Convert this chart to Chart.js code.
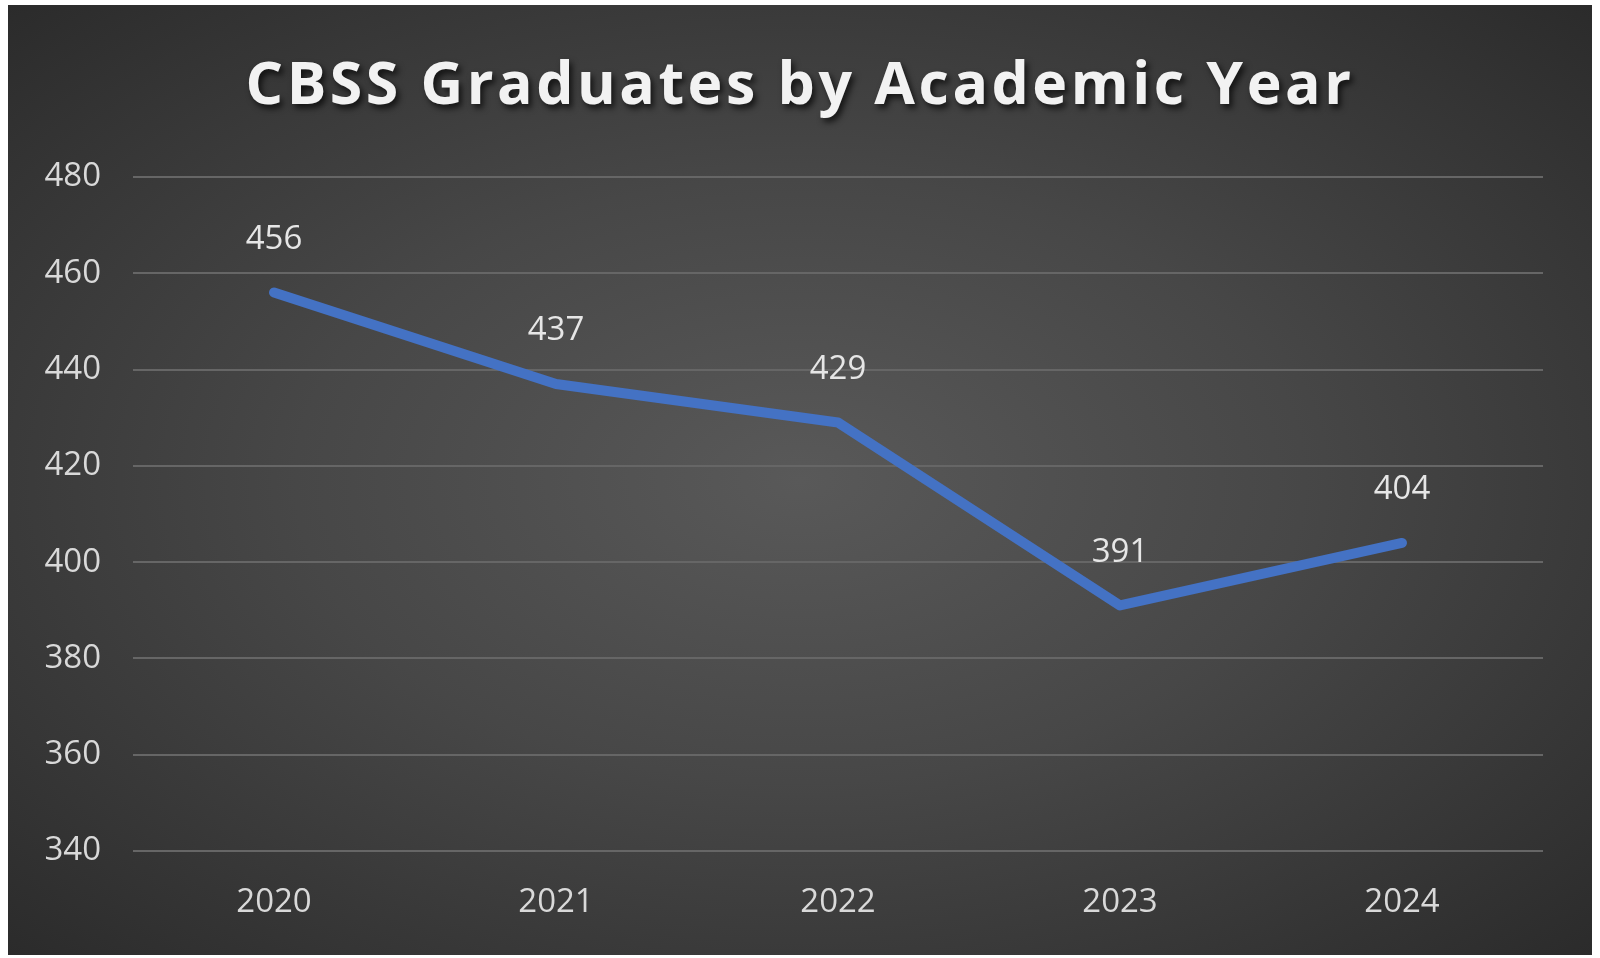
<!DOCTYPE html>
<html>
<head>
<meta charset="utf-8">
<script src="https://cdn.jsdelivr.net/npm/chart.js@4"></script>
<style>
  body { margin: 0; background: #fff; width: 1600px; height: 958px; overflow: hidden; }
  #panel {
    position: absolute; left: 8px; top: 5px; width: 1584px; height: 950px;
    background: radial-gradient(ellipse at 50% 50%, #595959 0%, #474747 45%, #2b2b2b 100%);
  }
  #title {
    position: absolute; left: 0; right: 0; top: 41px; text-align: center;
    font-family: "Open Sans", sans-serif; font-weight: 700; font-size: 59px;
    letter-spacing: 3.5px; color: #f2f2f2; text-shadow: 3px 4px 6px rgba(0,0,0,0.7);
    margin: 0; line-height: 70px;
  }
  canvas { position: absolute; left: 0; top: 0; }
</style>
</head>
<body>
<div id="panel">
  <h1 id="title">CBSS Graduates by Academic Year</h1>
  <canvas id="chart" width="1584" height="950"></canvas>
</div>
<script>
const years = ['2020', '2021', '2022', '2023', '2024'];
const graduates = [456, 437, 429, 391, 404];
const yTicks = [340, 360, 380, 400, 420, 440, 460, 480];

// labels drawn above each point
const pointLabels = {
    id: 'pointLabels',
    afterDatasetsDraw(chart) {
        const ctx = chart.ctx;
        const meta = chart.getDatasetMeta(0);
        ctx.save();
        ctx.font = '33px "Open Sans", sans-serif';
        ctx.fillStyle = '#e6e6e6';
        ctx.textAlign = 'center';
        ctx.textBaseline = 'middle';
        meta.data.forEach((pt, i) => {
            ctx.fillText(graduates[i], pt.x, pt.y - 53);
        });
        ctx.restore();
    }
};

Chart.defaults.color = '#d9d9d9';
Chart.defaults.font.family = '"Open Sans", sans-serif';

new Chart(document.getElementById('chart').getContext('2d'), {
    type: 'line',
    data: {
        labels: years,
        datasets: [{
            data: graduates,
            borderColor: '#4472C4',
            borderWidth: 10,
            pointRadius: 0,
            tension: 0,
            borderJoinStyle: 'round',
            borderCapStyle: 'round'
        }]
    },
    options: {
        responsive: false,
        animation: false,
        layout: { padding: { top: 172, right: 49, bottom: 34, left: 0 } },
        plugins: { legend: { display: false }, tooltip: { enabled: false } },
        scales: {
            x: {
                offset: true,
                grid: { display: false },
                border: { display: false },
                ticks: { font: { size: 33 }, padding: 24 },
                afterFit(s) { s.height = 70; }
            },
            y: {
                min: 340, max: 480,
                afterBuildTicks(s) { s.ticks = yTicks.map(v => ({ value: v })); },
                grid: { color: '#666666', lineWidth: 2, drawTicks: false },
                border: { display: false },
                ticks: { font: { size: 33 }, padding: 32 },
                afterFit(s) { s.width = 125; }
            }
        }
    },
    plugins: [pointLabels]
});
</script>
</body>
</html>
